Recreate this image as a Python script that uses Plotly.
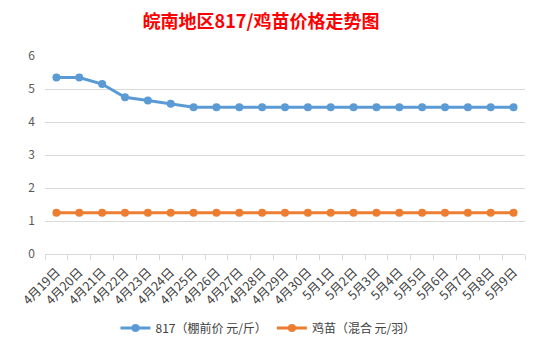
import plotly.graph_objects as go

categories = ["4月19日", "4月20日", "4月21日", "4月22日", "4月23日", "4月24日", "4月25日",
              "4月26日", "4月27日", "4月28日", "4月29日", "4月30日", "5月1日", "5月2日",
              "5月3日", "5月4日", "5月5日", "5月6日", "5月7日", "5月8日", "5月9日"]
price_817 = [5.35, 5.35, 5.15, 4.75, 4.65, 4.55, 4.45, 4.45, 4.45, 4.45, 4.45, 4.45,
             4.45, 4.45, 4.45, 4.45, 4.45, 4.45, 4.45, 4.45, 4.45]
price_chick = [1.25] * 21
series_names = ["817（棚前价 元/斤）", "鸡苗（混合 元/羽）"]
y_ticks = [0, 1, 2, 3, 4, 5, 6]

font_family = "Noto Sans CJK SC, Noto Sans, sans-serif"

fig = go.Figure()
fig.add_trace(go.Scatter(x=categories, y=price_817, name=series_names[0], mode="lines+markers",
                         line=dict(color="#5B9BD5", width=3), marker=dict(size=8, color="#5B9BD5")))
fig.add_trace(go.Scatter(x=categories, y=price_chick, name=series_names[1], mode="lines+markers",
                         line=dict(color="#ED7D31", width=3), marker=dict(size=8, color="#ED7D31")))

fig.update_layout(
    width=542, height=355,
    margin=dict(l=37, r=25, t=48, b=109, autoexpand=False),
    paper_bgcolor="white", plot_bgcolor="white",
    font=dict(family=font_family, color="#595959", size=11),
    title=dict(text="<b>皖南地区817/鸡苗价格走势图</b>", xref="container", x=253/542, xanchor="center",
               yref="container", y=1 - 14/355, yanchor="middle",
               font=dict(family=font_family, size=18, color="#FF0000")),
    legend=dict(orientation="h", xref="container", x=260/542, xanchor="center",
                yref="container", y=1 - 320/355, yanchor="middle",
                font=dict(size=12, color="#404040"), itemwidth=30),
    showlegend=True,
)
fig.update_xaxes(type="category", range=[-0.5, len(categories) - 0.5], tickangle=-45, showgrid=False,
                 showline=True, linecolor="#d9d9d9", linewidth=1, ticks="outside", tickson="boundaries",
                 ticklen=5, tickcolor="#d9d9d9", tickfont=dict(size=12.5, color="#404040"),
                 ticklabelstandoff=5, automargin=False)
fig.update_yaxes(range=[0, 6], tickvals=y_ticks, showgrid=True, gridcolor="#d9d9d9", gridwidth=1,
                 zeroline=False, showline=False, tickfont=dict(size=12, color="#595959"), ticks="",
                 ticklabelstandoff=9, automargin=False)

fig.write_html("out.html")
